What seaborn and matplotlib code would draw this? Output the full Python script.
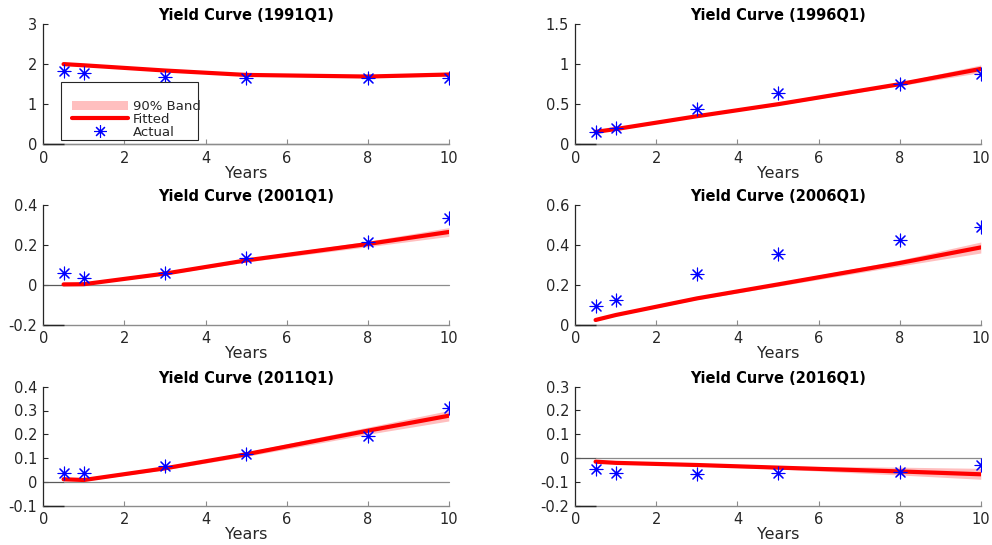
import matplotlib
matplotlib.use("Agg")
import matplotlib.pyplot as plt
from matplotlib.patches import Patch, Rectangle
from matplotlib.lines import Line2D
from matplotlib.ticker import FuncFormatter
import seaborn as sns
import pandas as pd

# ---- data -------------------------------------------------------------
maturities = [0.5, 1, 3, 5, 8, 10]
quarters = ["1991Q1", "1996Q1", "2001Q1", "2006Q1", "2011Q1", "2016Q1"]

actual_1991 = [1.835, 1.77, 1.69, 1.66, 1.66, 1.65]
fitted_1991 = [2.00, 1.97, 1.84, 1.73, 1.69, 1.74]
lower_1991 = [1.99, 1.96, 1.825, 1.71, 1.66, 1.70]
upper_1991 = [2.01, 1.98, 1.855, 1.75, 1.72, 1.78]

actual_1996 = [0.150, 0.203, 0.444, 0.636, 0.752, 0.873]
fitted_1996 = [0.155, 0.190, 0.350, 0.500, 0.750, 0.940]
lower_1996 = [0.150, 0.182, 0.342, 0.488, 0.730, 0.895]
upper_1996 = [0.160, 0.198, 0.360, 0.514, 0.772, 0.990]

actual_2001 = [0.060, 0.033, 0.060, 0.137, 0.213, 0.333]
fitted_2001 = [0.003, 0.004, 0.057, 0.123, 0.205, 0.265]
lower_2001 = [0.000, 0.001, 0.052, 0.115, 0.191, 0.243]
upper_2001 = [0.006, 0.007, 0.062, 0.131, 0.219, 0.287]

actual_2006 = [0.095, 0.127, 0.253, 0.353, 0.425, 0.488]
fitted_2006 = [0.025, 0.050, 0.133, 0.203, 0.310, 0.388]
lower_2006 = [0.022, 0.046, 0.127, 0.194, 0.295, 0.360]
upper_2006 = [0.028, 0.054, 0.139, 0.212, 0.325, 0.415]

actual_2011 = [0.036, 0.036, 0.066, 0.119, 0.192, 0.310]
fitted_2011 = [0.011, 0.008, 0.057, 0.116, 0.215, 0.278]
lower_2011 = [0.007, 0.004, 0.051, 0.107, 0.200, 0.256]
upper_2011 = [0.015, 0.012, 0.063, 0.125, 0.230, 0.300]

actual_2016 = [-0.046, -0.061, -0.065, -0.061, -0.060, -0.029]
fitted_2016 = [-0.015, -0.020, -0.029, -0.040, -0.056, -0.068]
lower_2016 = [-0.018, -0.023, -0.033, -0.046, -0.071, -0.089]
upper_2016 = [-0.012, -0.017, -0.025, -0.034, -0.038, -0.043]

actual_all = [actual_1991, actual_1996, actual_2001, actual_2006, actual_2011, actual_2016]
fitted_all = [fitted_1991, fitted_1996, fitted_2001, fitted_2006, fitted_2011, fitted_2016]
lower_all = [lower_1991, lower_1996, lower_2001, lower_2006, lower_2011, lower_2016]
upper_all = [upper_1991, upper_1996, upper_2001, upper_2006, upper_2011, upper_2016]

y_limits = [(0, 3), (0, 1.5), (-0.2, 0.4), (0, 0.6), (-0.1, 0.4), (-0.2, 0.3)]
y_ticks = [
    [0, 1, 2, 3],
    [0, 0.5, 1, 1.5],
    [-0.2, 0, 0.2, 0.4],
    [0, 0.2, 0.4, 0.6],
    [-0.1, 0, 0.1, 0.2, 0.3, 0.4],
    [-0.2, -0.1, 0, 0.1, 0.2, 0.3],
]
x_ticks = [0, 2, 4, 6, 8, 10]

legend_labels = ["90% Band", "Fitted", "Actual"]

# ---- style ------------------------------------------------------------
sns.set_style("ticks")
plt.rcParams["font.family"] = ["DejaVu Sans"]
plt.rcParams["axes.unicode_minus"] = False

AX_COLOR = "0.15"
FADED = "0.55"
BAND_COLOR = "#ffbfbf"
FIT_COLOR = "#ff0000"
ACT_COLOR = "#0000ff"
ASTERISK = (8, 2, 0)

W, H = 992, 545
fig = plt.figure(figsize=(W / 100, H / 100), dpi=100)
fig.patch.set_facecolor("white")

col_left_px = [43.3, 575.3]
col_width_px = 405.5
row_px = [(24.0, 144.3), (205.0, 325.0), (386.7, 505.7)]

fmt = FuncFormatter(lambda v, _: f"{v:g}")
x_lo, x_hi = 0, 10

for i, q in enumerate(quarters):
    r, c = divmod(i, 2)
    top, bot = row_px[r]
    ax = fig.add_axes([col_left_px[c] / W, 1 - bot / H, col_width_px / W, (bot - top) / H])
    ax.set_facecolor("white")

    df = pd.DataFrame({
        "Years": maturities,
        "Actual": actual_all[i],
        "Fitted": fitted_all[i],
        "Lower": lower_all[i],
        "Upper": upper_all[i],
    })
    y_lo, y_hi = y_limits[i]
    m0, m1 = maturities[0], maturities[-1]

    # zero reference line: darker before the shortest maturity, faded after it
    ax.plot([x_lo, m0], [0, 0], color="0.35", lw=0.9, zorder=2, clip_on=False)
    ax.plot([m0, m1], [0, 0], color=FADED, lw=0.9, zorder=2, clip_on=False)

    # confidence band, fitted curve and observed yields
    ax.fill_between(df["Years"], df["Lower"], df["Upper"], color=BAND_COLOR, lw=0, zorder=3)
    sns.lineplot(data=df, x="Years", y="Fitted", ax=ax, color=FIT_COLOR, lw=3,
                 estimator=None, zorder=4)
    sns.scatterplot(data=df, x="Years", y="Actual", ax=ax, color=ACT_COLOR,
                    marker=ASTERISK, s=85, linewidth=0.8, edgecolor=ACT_COLOR, zorder=5)

    ax.set_xlim(x_lo, x_hi)
    ax.set_ylim(y_lo, y_hi)
    ax.set_xticks(x_ticks)
    ax.set_yticks(y_ticks[i])
    ax.xaxis.set_major_formatter(fmt)
    ax.yaxis.set_major_formatter(fmt)

    # axis lines: dark left axis, faded bottom axis with a dark start segment
    sns.despine(ax=ax)
    ax.spines["left"].set_color(AX_COLOR)
    ax.spines["left"].set_linewidth(0.9)
    ax.spines["bottom"].set_color(FADED)
    ax.spines["bottom"].set_linewidth(1.0)
    ax.plot([x_lo, m0], [y_lo, y_lo], color=AX_COLOR, lw=1.0, zorder=2.6,
            clip_on=False, solid_capstyle="butt")

    ax.tick_params(direction="in", length=3.5, width=0.8, color=AX_COLOR,
                   labelcolor=AX_COLOR, labelsize=10.5, pad=4.5)
    ax.tick_params(axis="x", color=FADED)

    ax.set_title(f"Yield Curve ({q})", fontsize=10.5, fontweight="bold", color="black", pad=3)
    ax.set_xlabel("Years", fontsize=11.5, color=AX_COLOR, labelpad=0)
    ax.set_ylabel("")
    if ax.get_legend() is not None:
        ax.get_legend().remove()

    if i == 0:
        ax.add_patch(Rectangle((0.0436, 0.036), 0.338, 0.479, transform=ax.transAxes,
                               facecolor="white", edgecolor=AX_COLOR, lw=0.8, zorder=10))
        handles = [
            Patch(facecolor=BAND_COLOR, edgecolor="none"),
            Line2D([], [], color=FIT_COLOR, lw=3),
            Line2D([], [], color=ACT_COLOR, lw=0, marker=ASTERISK, markersize=9,
                   markeredgewidth=0.8),
        ]
        leg = ax.legend(handles, legend_labels, loc="upper left",
                        bbox_to_anchor=(0.071, 0.368), frameon=False, fontsize=9.5,
                        handlelength=4.2, handletextpad=0.4, labelspacing=0.0,
                        borderpad=0, borderaxespad=0, handleheight=0.7)
        leg.set_zorder(11)

fig.savefig("out.png", dpi=100, facecolor="white")
